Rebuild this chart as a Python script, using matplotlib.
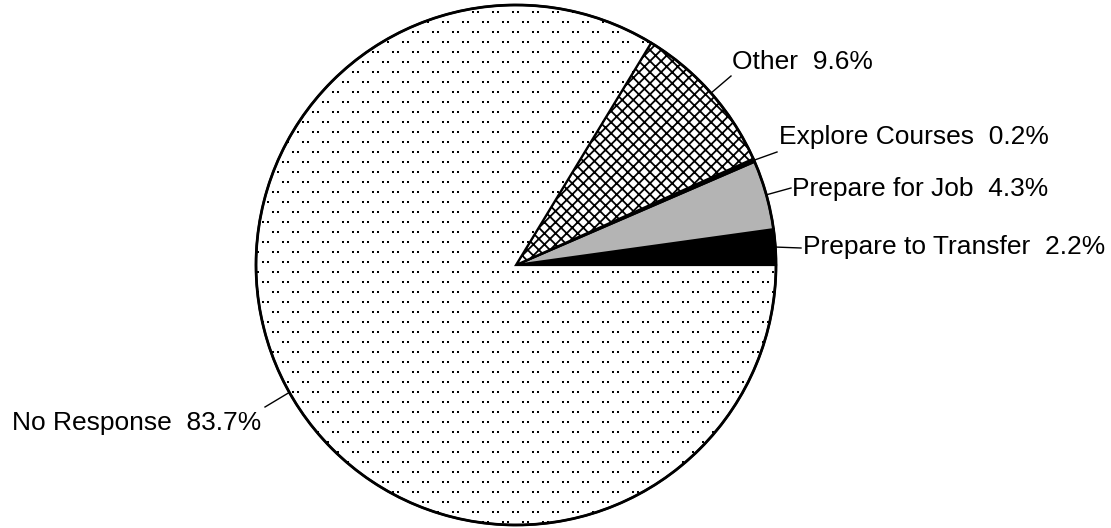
import numpy as np
import matplotlib
matplotlib.use("Agg")
import matplotlib.pyplot as plt

# ---- data ----
categories = ["Prepare to Transfer", "Prepare for Job", "Explore Courses", "Other", "No Response"]
values = [2.2, 4.3, 0.2, 9.6, 83.7]
labels = ["Prepare to Transfer  2.2%", "Prepare for Job  4.3%", "Explore Courses  0.2%",
          "Other  9.6%", "No Response  83.7%"]

# ---- layout (pixels in the 1111x528 image) ----
W, H = 1111, 528
CX, CY, R = 516, 265, 260


def px(x, y):
    return (x - CX) / R, (CY - y) / R


text_pos = [(803, 247), (792, 189), (779, 137), (732, 62), (12, 423)]
leader_end = [(801, 248), (791, 188), (777, 152), (731, 76), (265, 407)]

plt.rcParams['font.family'] = ['Liberation Sans', 'DejaVu Sans']
plt.rcParams['hatch.linewidth'] = 1.3

fig = plt.figure(figsize=(W / 100, H / 100), dpi=100)
ax = fig.add_axes([0, 0, 1, 1])
ax.axis('off')

faces = ['black', '#b4b4b4', 'black', 'white', 'white']
hatches = [None, None, None, 'xxx', None]
wedges, _ = ax.pie(values, startangle=0, counterclock=True, radius=1.0,
                   colors=faces, center=(0, 0), frame=False,
                   wedgeprops=dict(edgecolor='black', linewidth=1.6))
ax.set_xlim(-CX / R, (W - CX) / R)
ax.set_ylim(-(H - CY) / R, CY / R)
ax.set_aspect('auto')
for w, h in zip(wedges, hatches):
    if h:
        w.set_hatch(h)

# dotted texture for the "No Response" slice (paired dots, staggered grid)
xs, ys = [], []
row = 0
for y in np.arange(0, H, 10.0):
    off = 3 + (10 if row % 2 else 0)
    for x in np.arange(off, W, 20.0):
        xs += [x, x + 5]
        ys += [y + 2, y + 2]
    row += 1
dx, dy = zip(*[px(a, b) for a, b in zip(xs, ys)])
dots = ax.scatter(dx, dy, s=4.6, marker='s', color='black', linewidths=0, zorder=3)
dots.set_clip_path(wedges[4])

# outer circle edge
circ = plt.Circle((0, 0), 1.0, fill=False, edgecolor='black', linewidth=2.0, zorder=4)
ax.add_patch(circ)

# labels and leader lines
for w, lab, tp, le in zip(wedges, labels, text_pos, leader_end):
    ang = np.deg2rad((w.theta1 + w.theta2) / 2)
    sx, sy = np.cos(ang), np.sin(ang)
    ex, ey = px(*le)
    ax.plot([sx, ex], [sy, ey], color='black', linewidth=1.0, zorder=5)
    tx, ty = px(*tp)
    ax.text(tx, ty, lab, fontsize=19, ha='left', va='center', color='black')

fig.savefig("out.png", dpi=100)
